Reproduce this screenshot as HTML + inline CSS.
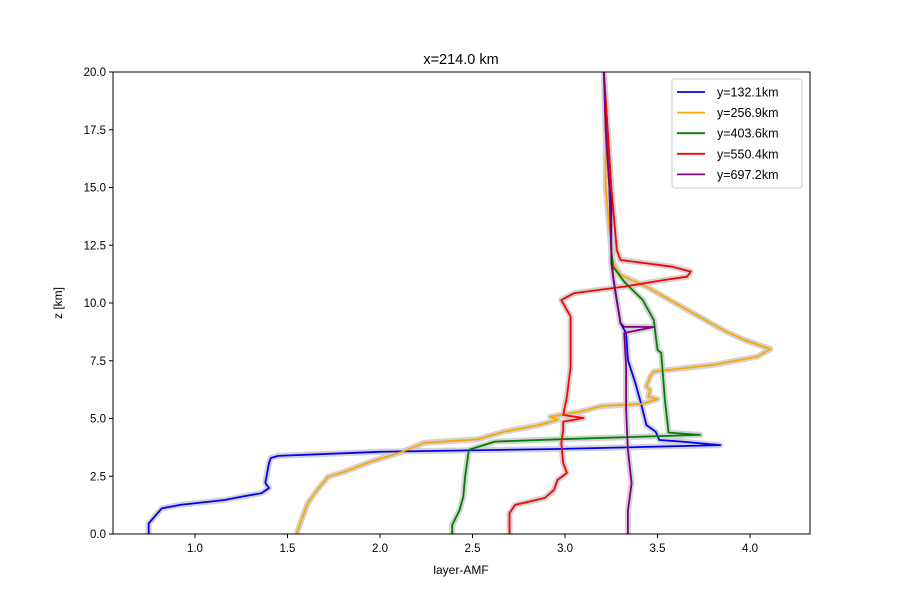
<!DOCTYPE html>
<html><head><meta charset="utf-8"><style>
body{margin:0;background:#fff;}
svg{display:block;font-family:"Liberation Sans","DejaVu Sans",sans-serif;}
</style></head><body>
<svg id="chart" width="900" height="600" xmlns="http://www.w3.org/2000/svg">
<rect width="900" height="600" fill="#fff"/>
<text x="461" y="64" font-size="14.5" text-anchor="middle">x=214.0 km</text>
<text x="461" y="574" font-size="12" text-anchor="middle">layer-AMF</text>
<text transform="translate(62,303) rotate(-90)" font-size="12" text-anchor="middle">z [km]</text>
<g id="marks"></g>
<g id="axes"></g>
<g id="legend"></g>
</svg>
<script>
const xTicks=[1.0,1.5,2.0,2.5,3.0,3.5,4.0];
const yTicks=[0,2.5,5,7.5,10,12.5,15,17.5,20];
const seriesNames=["y=132.1km","y=256.9km","y=403.6km","y=550.4km","y=697.2km"];
const seriesColors=["blue","orange","green","red","purple"];
const zBlue=[0,0.46,1.11,1.26,1.47,1.61,1.77,1.99,2.21,3.07,3.29,3.38,3.56,3.68,3.85,4.0,4.07,4.43,4.72,5.67,6.54,7.53,8.7,9.13,10.13,11.14,12.3,15,17.5,20];
const xBlue=[0.75,0.75,0.82,0.92,1.16,1.25,1.36,1.40,1.38,1.40,1.41,1.45,2.0,2.96,3.84,3.63,3.51,3.49,3.44,3.41,3.38,3.34,3.33,3.30,3.28,3.26,3.25,3.25,3.23,3.21];
const zOrange=[0,0.48,1.34,1.90,2.48,2.70,3.13,3.56,3.95,4.10,4.43,4.72,4.94,5.08,5.29,5.54,5.63,5.84,5.94,6.23,6.38,6.81,7.03,7.32,7.68,8.01,8.40,8.76,9.84,10.71,11.21,11.73,12.3,15,17.5,20];
const xOrange=[1.55,1.57,1.61,1.66,1.72,1.81,1.95,2.12,2.24,2.53,2.67,2.86,2.96,2.92,3.08,3.20,3.42,3.50,3.45,3.46,3.44,3.46,3.48,3.80,4.04,4.11,3.97,3.87,3.63,3.44,3.30,3.26,3.25,3.22,3.22,3.21];
const zGreen=[0,0.39,1.04,1.61,2.48,3.64,4.0,4.1,4.29,4.39,5.80,7.84,7.97,9.26,10.13,10.92,11.57,12.3,15,17.5,20];
const xGreen=[2.39,2.39,2.43,2.45,2.46,2.48,2.62,2.96,3.73,3.56,3.54,3.52,3.50,3.48,3.42,3.32,3.26,3.25,3.24,3.22,3.21];
const zRed=[0,0.9,1.26,1.56,1.90,2.34,2.64,3.07,3.94,4.50,4.86,5.02,5.15,5.94,7.24,8.40,9.41,10.13,10.43,10.71,11.0,11.14,11.36,11.57,11.86,12.3,15,17.5,20];
const xRed=[2.70,2.70,2.73,2.89,2.94,2.96,3.01,2.99,2.98,2.99,2.99,3.10,2.99,3.01,3.03,3.03,3.03,2.98,3.05,3.32,3.54,3.66,3.68,3.58,3.30,3.28,3.25,3.23,3.21];
const zPurple=[0,1.0,2.2,3.64,5.37,7.24,8.7,8.96,8.97,9.13,10.56,11.73,12.3,15,17.5,20];
const xPurple=[3.34,3.34,3.36,3.34,3.33,3.33,3.32,3.48,3.32,3.30,3.27,3.25,3.25,3.24,3.22,3.21];
const X0=113,X1=810,Y0=72,Y1=534,xMin=0.557,xMax=4.324,zMin=0,zMax=20;
function sx(v){return X0+(v-xMin)/(xMax-xMin)*(X1-X0);}
function sy(v){return Y1-(v-zMin)/(zMax-zMin)*(Y1-Y0);}
const NS="http://www.w3.org/2000/svg";
function mk(t,a){const e=document.createElementNS(NS,t);for(const k in a)e.setAttribute(k,a[k]);return e;}
const marks=document.getElementById('marks');
const allX=[xBlue,xOrange,xGreen,xRed,xPurple],allZ=[zBlue,zOrange,zGreen,zRed,zPurple];
allX.forEach((xs,i)=>{
  const d=xs.map((v,j)=>(j?'L':'M')+sx(v).toFixed(1)+','+sy(allZ[i][j]).toFixed(1)).join('');
  const sh=mk('path',{d:d,fill:'none',stroke:'#d3d3d3','stroke-width':6,'stroke-linejoin':'round'});
  
  
  marks.appendChild(sh);
});
allX.forEach((xs,i)=>{
  const d=xs.map((v,j)=>(j?'L':'M')+sx(v).toFixed(1)+','+sy(allZ[i][j]).toFixed(1)).join('');
  const p=mk('path',{d:d,fill:'none',stroke:seriesColors[i],'stroke-width':1.8,'stroke-linejoin':'round'});
  
  
  marks.appendChild(p);
});
const axes=document.getElementById('axes');
const frame=mk('rect',{x:X0,y:Y0,width:X1-X0,height:Y1-Y0,fill:'none',stroke:'#000','stroke-width':1});


axes.appendChild(frame);
xTicks.forEach(t=>{
  const x=sx(t);
  const l=mk('line',{x1:x,x2:x,y1:Y1,y2:Y1+4,stroke:'#000'});
  
  
  axes.appendChild(l);
  const tx=mk('text',{x:x,y:Y1+18,'font-size':11.5,'text-anchor':'middle'});
  tx.textContent=t.toFixed(1);
  
  
  axes.appendChild(tx);
});
yTicks.forEach(t=>{
  const y=sy(t);
  const l=mk('line',{x1:X0-4,x2:X0,y1:y,y2:y,stroke:'#000'});
  
  
  axes.appendChild(l);
  const tx=mk('text',{x:X0-7,y:y+4,'font-size':11.5,'text-anchor':'end'});
  tx.textContent=t.toFixed(1);
  
  
  axes.appendChild(tx);
});
const lg=document.getElementById('legend');
const box=mk('rect',{x:672,y:79,width:130,height:109,rx:3,fill:'#fff','fill-opacity':0.8,stroke:'#ccc'});


lg.appendChild(box);
seriesNames.forEach((n,i)=>{
  const y=92+i*20.6;
  const l=mk('line',{x1:677,x2:705,y1:y,y2:y,stroke:seriesColors[i],'stroke-width':1.8});
  
  
  lg.appendChild(l);
  const t=mk('text',{x:717,y:y+4.5,'font-size':12.5});
  t.textContent=n;
  
  
  lg.appendChild(t);
});
</script>
</body></html>
